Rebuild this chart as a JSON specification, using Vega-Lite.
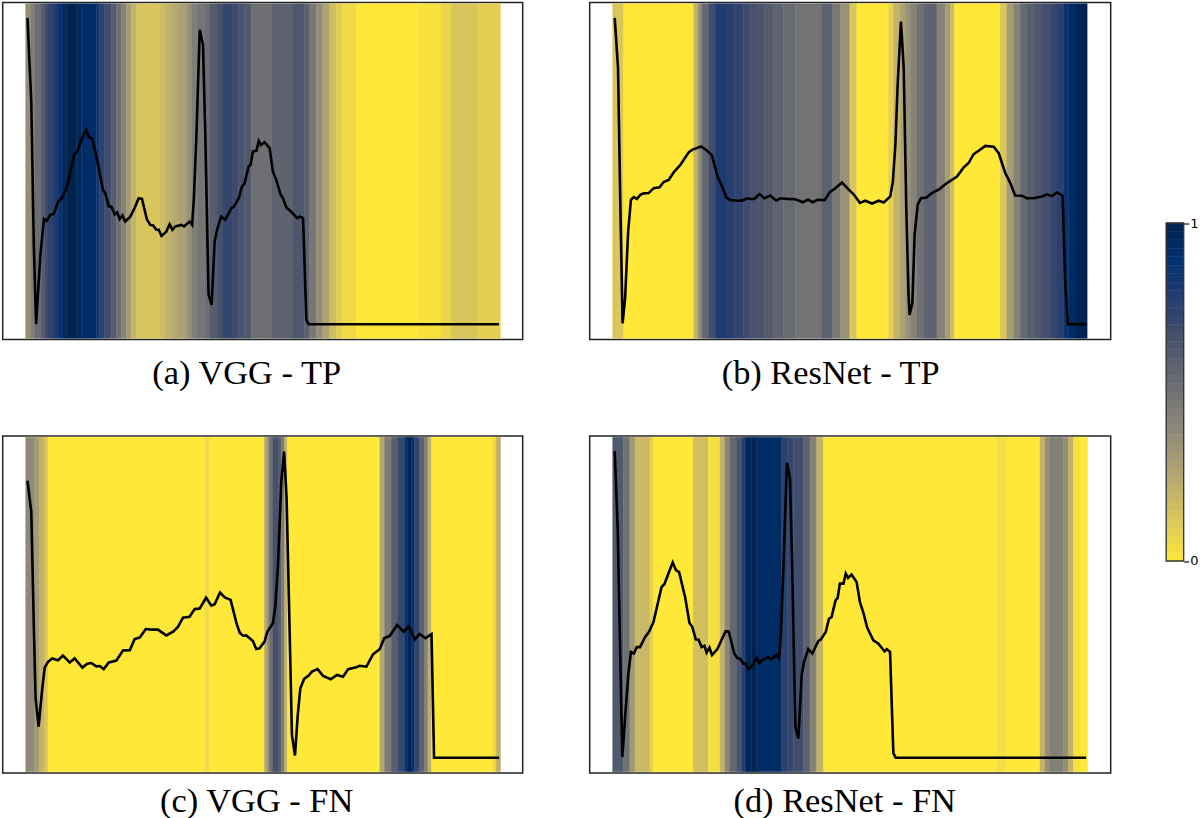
{
  "$schema": "https://vega.github.io/schema/vega-lite/v6.json",
  "description": "ECG beats with saliency strips for VGG and ResNet, true positive and false negative",
  "background": "white",
  "padding": {"left": 1.7, "top": 1.5, "right": 0, "bottom": 0},
  "spacing": 53.5,
  "config": {
    "view": {"stroke": "#222", "strokeWidth": 1.5},
    "axisX": {"domain": false, "ticks": false, "labels": false, "grid": false, "titleFont": "Liberation Serif", "titleFontSize": 34.4, "titleFontWeight": "normal", "titleColor": "black", "titleBaseline": "alphabetic", "titleAlign": "center"}
  },
  "datasets": {
    "heatA": [
      {"x":0,"x2":2,"w":0.36},{"x":2,"x2":3.6,"w":0.44},{"x":3.6,"x2":6.2,"w":0.52},{"x":6.2,"x2":7.5,"w":0.62},{"x":7.5,"x2":8.8,"w":0.68},{"x":8.8,"x2":10.8,"w":0.74},{"x":10.8,"x2":12.8,"w":0.8},{"x":12.8,"x2":14.7,"w":0.88},{"x":14.7,"x2":16,"w":0.96},{"x":16,"x2":20,"w":1},{"x":20,"x2":22,"w":0.96},{"x":22,"x2":27.9,"w":0.92},{"x":27.9,"x2":29.2,"w":0.85},{"x":29.2,"x2":31.2,"w":0.75},{"x":31.2,"x2":33.8,"w":0.68},{"x":33.8,"x2":35.8,"w":0.6},{"x":35.8,"x2":37.8,"w":0.5},{"x":37.8,"x2":39.7,"w":0.42},{"x":39.7,"x2":41.7,"w":0.3},{"x":41.7,"x2":43.7,"w":0.2},{"x":43.7,"x2":52.9,"w":0.13},{"x":52.9,"x2":54.9,"w":0.16},{"x":54.9,"x2":57.5,"w":0.2},{"x":57.5,"x2":60.5,"w":0.25},{"x":60.5,"x2":63.4,"w":0.28},{"x":63.4,"x2":65.4,"w":0.35},{"x":65.4,"x2":68,"w":0.44},{"x":68,"x2":70.7,"w":0.48},{"x":70.7,"x2":72.6,"w":0.52},{"x":72.6,"x2":75.3,"w":0.6},{"x":75.3,"x2":77.9,"w":0.66},{"x":77.9,"x2":81.8,"w":0.72},{"x":81.8,"x2":84,"w":0.69},{"x":84,"x2":86.5,"w":0.65},{"x":86.5,"x2":89,"w":0.62},{"x":89,"x2":97,"w":0.51},{"x":97,"x2":105.5,"w":0.57},{"x":105.5,"x2":110.1,"w":0.63},{"x":110.1,"x2":112.1,"w":0.58},{"x":112.1,"x2":114.7,"w":0.47},{"x":114.7,"x2":117.3,"w":0.37},{"x":117.3,"x2":120,"w":0.27},{"x":120,"x2":122.6,"w":0.16},{"x":122.6,"x2":125,"w":0.1},{"x":125,"x2":130.5,"w":0.05},{"x":130.5,"x2":154.8,"w":0},{"x":154.8,"x2":164,"w":0.02},{"x":164,"x2":168,"w":0.07},{"x":168,"x2":178.5,"w":0.13},{"x":178.5,"x2":187.4,"w":0.09}
    ],
    "ecgA": [
      {"x":0.7,"y":1},{"x":2.2,"y":0.727},{"x":3.2,"y":0.259},{"x":4.1,"y":0},{"x":5.8,"y":0.226},{"x":7.2,"y":0.343},{"x":8.3,"y":0.337},{"x":9.7,"y":0.357},{"x":11.1,"y":0.36},{"x":12.8,"y":0.4},{"x":14.3,"y":0.411},{"x":16.3,"y":0.449},{"x":17.6,"y":0.498},{"x":19.3,"y":0.555},{"x":20.4,"y":0.564},{"x":22,"y":0.602},{"x":23.9,"y":0.634},{"x":25,"y":0.61},{"x":26.3,"y":0.607},{"x":28.6,"y":0.52},{"x":30.5,"y":0.439},{"x":31.4,"y":0.428},{"x":32.8,"y":0.384},{"x":33.8,"y":0.384},{"x":35.1,"y":0.359},{"x":36.1,"y":0.365},{"x":37.1,"y":0.343},{"x":38.2,"y":0.355},{"x":39.3,"y":0.335},{"x":41.3,"y":0.351},{"x":43,"y":0.379},{"x":44.6,"y":0.411},{"x":45.9,"y":0.409},{"x":47.9,"y":0.341},{"x":49.2,"y":0.324},{"x":50.3,"y":0.322},{"x":51.6,"y":0.308},{"x":52.5,"y":0.308},{"x":53.6,"y":0.288},{"x":55.5,"y":0.302},{"x":56.8,"y":0.326},{"x":57.9,"y":0.308},{"x":59.1,"y":0.319},{"x":61.4,"y":0.324},{"x":62.5,"y":0.319},{"x":64.7,"y":0.335},{"x":65.7,"y":0.324},{"x":66.4,"y":0.411},{"x":67.4,"y":0.618},{"x":68.7,"y":0.961},{"x":70,"y":0.912},{"x":70.9,"y":0.618},{"x":72.2,"y":0.096},{"x":73.4,"y":0.063},{"x":74.6,"y":0.27},{"x":75.7,"y":0.313},{"x":77.2,"y":0.351},{"x":78.8,"y":0.341},{"x":81.2,"y":0.379},{"x":82.2,"y":0.384},{"x":84.1,"y":0.411},{"x":85.4,"y":0.449},{"x":86.4,"y":0.46},{"x":88,"y":0.515},{"x":88.8,"y":0.52},{"x":89.7,"y":0.564},{"x":91.1,"y":0.566},{"x":92,"y":0.598},{"x":92.8,"y":0.585},{"x":94.3,"y":0.594},{"x":96.3,"y":0.575},{"x":97.6,"y":0.498},{"x":98.9,"y":0.471},{"x":100.7,"y":0.422},{"x":101.6,"y":0.411},{"x":102.9,"y":0.381},{"x":104.9,"y":0.366},{"x":107.2,"y":0.346},{"x":108.2,"y":0.351},{"x":109.5,"y":0.346},{"x":110.8,"y":0.014},{"x":111.7,"y":0},{"x":186.8,"y":0}
    ],
    "heatB": [
      {"x":0,"x2":4.3,"w":0.12},{"x":4.3,"x2":32,"w":0},{"x":32,"x2":33.8,"w":0.2},{"x":33.8,"x2":35.3,"w":0.38},{"x":35.3,"x2":37.9,"w":0.55},{"x":37.9,"x2":40.5,"w":0.68},{"x":40.5,"x2":45.1,"w":0.8},{"x":45.1,"x2":48,"w":0.78},{"x":48,"x2":51.7,"w":0.74},{"x":51.7,"x2":54.4,"w":0.69},{"x":54.4,"x2":57,"w":0.66},{"x":57,"x2":60,"w":0.64},{"x":60,"x2":63.6,"w":0.61},{"x":63.6,"x2":67.5,"w":0.57},{"x":67.5,"x2":72.1,"w":0.53},{"x":72.1,"x2":82.6,"w":0.49},{"x":82.6,"x2":86.6,"w":0.58},{"x":86.6,"x2":89.9,"w":0.46},{"x":89.9,"x2":93.6,"w":0.35},{"x":93.6,"x2":96.4,"w":0.12},{"x":96.4,"x2":108.9,"w":0},{"x":108.9,"x2":110.9,"w":0.08},{"x":110.9,"x2":113.5,"w":0.2},{"x":113.5,"x2":115.5,"w":0.28},{"x":115.5,"x2":117.5,"w":0.35},{"x":117.5,"x2":120,"w":0.42},{"x":120,"x2":122.7,"w":0.5},{"x":122.7,"x2":128,"w":0.57},{"x":128,"x2":131.3,"w":0.42},{"x":131.3,"x2":133.3,"w":0.3},{"x":133.3,"x2":134.9,"w":0.16},{"x":134.9,"x2":153,"w":0},{"x":153,"x2":155.6,"w":0.12},{"x":155.6,"x2":158.3,"w":0.3},{"x":158.3,"x2":160.9,"w":0.42},{"x":160.9,"x2":163.5,"w":0.54},{"x":163.5,"x2":166.2,"w":0.59},{"x":166.2,"x2":169.5,"w":0.63},{"x":169.5,"x2":172.7,"w":0.67},{"x":172.7,"x2":175.4,"w":0.71},{"x":175.4,"x2":178,"w":0.76},{"x":178,"x2":180,"w":0.87},{"x":180,"x2":183.3,"w":0.93},{"x":183.3,"x2":187.3,"w":1}
    ],
    "ecgB": [
      {"x":0.8,"y":1},{"x":2.1,"y":0.836},{"x":3,"y":0.4},{"x":3.9,"y":0.003},{"x":4.9,"y":0.085},{"x":6.1,"y":0.303},{"x":7.2,"y":0.406},{"x":8.3,"y":0.415},{"x":9.6,"y":0.409},{"x":10.9,"y":0.422},{"x":12.2,"y":0.427},{"x":14.2,"y":0.428},{"x":16.2,"y":0.444},{"x":18.5,"y":0.447},{"x":20.1,"y":0.464},{"x":22.1,"y":0.471},{"x":24.1,"y":0.496},{"x":26.7,"y":0.52},{"x":30,"y":0.561},{"x":31.3,"y":0.569},{"x":34.9,"y":0.58},{"x":37.2,"y":0.567},{"x":39.2,"y":0.551},{"x":41.4,"y":0.482},{"x":43.2,"y":0.449},{"x":44.9,"y":0.413},{"x":46.4,"y":0.405},{"x":49.1,"y":0.403},{"x":51.3,"y":0.404},{"x":53,"y":0.411},{"x":55,"y":0.408},{"x":56.3,"y":0.411},{"x":57.9,"y":0.425},{"x":59.9,"y":0.411},{"x":62.2,"y":0.42},{"x":64.5,"y":0.404},{"x":66.4,"y":0.411},{"x":68.8,"y":0.409},{"x":72.1,"y":0.408},{"x":75.1,"y":0.398},{"x":77.1,"y":0.407},{"x":78.9,"y":0.398},{"x":80.9,"y":0.406},{"x":83.7,"y":0.405},{"x":85.7,"y":0.431},{"x":87.5,"y":0.441},{"x":90.5,"y":0.462},{"x":93.2,"y":0.439},{"x":95.1,"y":0.424},{"x":97.6,"y":0.396},{"x":99.7,"y":0.403},{"x":102.4,"y":0.394},{"x":105,"y":0.403},{"x":107,"y":0.397},{"x":109.6,"y":0.417},{"x":110.6,"y":0.466},{"x":111.6,"y":0.585},{"x":112.5,"y":0.781},{"x":113.8,"y":0.988},{"x":114.9,"y":0.836},{"x":115.9,"y":0.379},{"x":116.8,"y":0.096},{"x":117.2,"y":0.03},{"x":118.3,"y":0.069},{"x":119.2,"y":0.292},{"x":120.4,"y":0.39},{"x":121.7,"y":0.411},{"x":123.8,"y":0.413},{"x":126,"y":0.428},{"x":129,"y":0.441},{"x":131.3,"y":0.457},{"x":135.9,"y":0.482},{"x":138.5,"y":0.511},{"x":140.5,"y":0.526},{"x":142.5,"y":0.555},{"x":144.5,"y":0.566},{"x":147.1,"y":0.582},{"x":150.4,"y":0.579},{"x":152.4,"y":0.558},{"x":155,"y":0.493},{"x":157,"y":0.46},{"x":158.9,"y":0.42},{"x":161.6,"y":0.419},{"x":163.5,"y":0.411},{"x":166.2,"y":0.411},{"x":169.5,"y":0.417},{"x":171.4,"y":0.424},{"x":173.4,"y":0.418},{"x":175.4,"y":0.43},{"x":177.6,"y":0.42},{"x":178.7,"y":0.128},{"x":179.7,"y":0},{"x":187,"y":0}
    ],
    "heatC": [
      {"x":0,"x2":3.6,"w":0.38},{"x":3.6,"x2":5.5,"w":0.3},{"x":5.5,"x2":7.5,"w":0.2},{"x":7.5,"x2":8.8,"w":0.12},{"x":8.8,"x2":70.7,"w":0},{"x":70.7,"x2":72.6,"w":0.05},{"x":72.6,"x2":94.3,"w":0},{"x":94.3,"x2":95.5,"w":0.25},{"x":95.5,"x2":96.3,"w":0.38},{"x":96.3,"x2":97.6,"w":0.52},{"x":97.6,"x2":99.6,"w":0.66},{"x":99.6,"x2":100.9,"w":0.6},{"x":100.9,"x2":102.2,"w":0.45},{"x":102.2,"x2":103.3,"w":0.2},{"x":103.3,"x2":139.8,"w":0},{"x":139.8,"x2":141.7,"w":0.25},{"x":141.7,"x2":144.4,"w":0.45},{"x":144.4,"x2":147,"w":0.6},{"x":147,"x2":149.6,"w":0.72},{"x":149.6,"x2":150.7,"w":0.88},{"x":150.7,"x2":152.3,"w":1},{"x":152.3,"x2":153.6,"w":0.9},{"x":153.6,"x2":155.5,"w":0.72},{"x":155.5,"x2":157.5,"w":0.58},{"x":157.5,"x2":158.8,"w":0.42},{"x":158.8,"x2":160.2,"w":0.22},{"x":160.2,"x2":184.5,"w":0},{"x":184.5,"x2":185.8,"w":0.06},{"x":185.8,"x2":187.4,"w":0.22}
    ],
    "ecgC": [
      {"x":0.7,"y":0.904},{"x":2.2,"y":0.803},{"x":3.2,"y":0.433},{"x":3.9,"y":0.194},{"x":5.1,"y":0.101},{"x":6.4,"y":0.215},{"x":7.5,"y":0.294},{"x":8.8,"y":0.313},{"x":10.5,"y":0.324},{"x":12.8,"y":0.318},{"x":14.7,"y":0.333},{"x":17.4,"y":0.311},{"x":19.3,"y":0.324},{"x":22.4,"y":0.294},{"x":24.3,"y":0.307},{"x":25.9,"y":0.309},{"x":27.9,"y":0.298},{"x":29.2,"y":0.299},{"x":30.8,"y":0.289},{"x":32.8,"y":0.311},{"x":35.8,"y":0.317},{"x":38.4,"y":0.35},{"x":41.1,"y":0.351},{"x":43,"y":0.387},{"x":45,"y":0.392},{"x":47.4,"y":0.42},{"x":49.6,"y":0.418},{"x":52.2,"y":0.418},{"x":55.5,"y":0.399},{"x":58.2,"y":0.411},{"x":60.1,"y":0.427},{"x":62.1,"y":0.457},{"x":64.7,"y":0.46},{"x":66.7,"y":0.485},{"x":68.7,"y":0.487},{"x":71.2,"y":0.522},{"x":73.3,"y":0.496},{"x":74.6,"y":0.501},{"x":76.7,"y":0.539},{"x":78.6,"y":0.523},{"x":80.9,"y":0.515},{"x":83.2,"y":0.439},{"x":84.5,"y":0.408},{"x":85.8,"y":0.398},{"x":87.1,"y":0.399},{"x":89.7,"y":0.381},{"x":91,"y":0.355},{"x":92.3,"y":0.357},{"x":94.3,"y":0.379},{"x":95.4,"y":0.411},{"x":97.6,"y":0.439},{"x":98.6,"y":0.498},{"x":99.6,"y":0.629},{"x":100.9,"y":0.901},{"x":102,"y":0.999},{"x":103,"y":0.847},{"x":104.2,"y":0.411},{"x":105.1,"y":0.074},{"x":106.3,"y":0.007},{"x":107.4,"y":0.139},{"x":108.4,"y":0.226},{"x":109.9,"y":0.257},{"x":111.7,"y":0.268},{"x":113,"y":0.281},{"x":115.2,"y":0.289},{"x":117.4,"y":0.267},{"x":120.4,"y":0.256},{"x":122.9,"y":0.27},{"x":125.3,"y":0.264},{"x":127.3,"y":0.289},{"x":130.5,"y":0.295},{"x":131.9,"y":0.3},{"x":134.5,"y":0.297},{"x":137.1,"y":0.337},{"x":139.8,"y":0.355},{"x":141.5,"y":0.39},{"x":143.7,"y":0.397},{"x":146.6,"y":0.433},{"x":149.2,"y":0.411},{"x":151.3,"y":0.428},{"x":153.6,"y":0.386},{"x":155.5,"y":0.404},{"x":157.8,"y":0.39},{"x":160.2,"y":0.403},{"x":161.2,"y":0},{"x":186.9,"y":0}
    ],
    "heatD": [
      {"x":0,"x2":4.2,"w":0.62},{"x":4.2,"x2":6.8,"w":0.5},{"x":6.8,"x2":8.8,"w":0.32},{"x":8.8,"x2":14.7,"w":0.18},{"x":14.7,"x2":16.1,"w":0.08},{"x":16.1,"x2":31.8,"w":0},{"x":31.8,"x2":37.8,"w":0.15},{"x":37.8,"x2":42.4,"w":0.03},{"x":42.4,"x2":44.3,"w":0.2},{"x":44.3,"x2":46.3,"w":0.4},{"x":46.3,"x2":48.9,"w":0.55},{"x":48.9,"x2":50.9,"w":0.65},{"x":50.9,"x2":52.6,"w":0.78},{"x":52.6,"x2":54.9,"w":0.97},{"x":54.9,"x2":56.8,"w":1},{"x":56.8,"x2":66.7,"w":0.93},{"x":66.7,"x2":69,"w":0.76},{"x":69,"x2":71.3,"w":0.72},{"x":71.3,"x2":75.3,"w":0.68},{"x":75.3,"x2":77.9,"w":0.58},{"x":77.9,"x2":80.5,"w":0.42},{"x":80.5,"x2":83.2,"w":0.2},{"x":83.2,"x2":151.6,"w":0},{"x":151.6,"x2":155.5,"w":0.03},{"x":155.5,"x2":168.7,"w":0},{"x":168.7,"x2":170.7,"w":0.2},{"x":170.7,"x2":172.6,"w":0.36},{"x":172.6,"x2":177.9,"w":0.43},{"x":177.9,"x2":179.9,"w":0.36},{"x":179.9,"x2":181.9,"w":0.2},{"x":181.9,"x2":184.5,"w":0.03},{"x":184.5,"x2":187.4,"w":0}
    ],
    "ecgD": [
      {"x":0.8,"y":1},{"x":2,"y":0.742},{"x":2.9,"y":0.361},{"x":3.8,"y":0.002},{"x":4.9,"y":0.133},{"x":6.2,"y":0.274},{"x":7.2,"y":0.345},{"x":8.4,"y":0.34},{"x":9.5,"y":0.361},{"x":10.8,"y":0.361},{"x":12.8,"y":0.394},{"x":14.3,"y":0.41},{"x":16.1,"y":0.443},{"x":17.6,"y":0.497},{"x":19.3,"y":0.557},{"x":20.4,"y":0.566},{"x":22,"y":0.601},{"x":23.7,"y":0.637},{"x":25,"y":0.612},{"x":26.2,"y":0.606},{"x":28.6,"y":0.524},{"x":30.3,"y":0.44},{"x":31.4,"y":0.427},{"x":32.8,"y":0.386},{"x":33.9,"y":0.385},{"x":35.1,"y":0.361},{"x":36.2,"y":0.365},{"x":37.1,"y":0.343},{"x":38.2,"y":0.359},{"x":39.2,"y":0.335},{"x":41.3,"y":0.354},{"x":43,"y":0.385},{"x":44.6,"y":0.413},{"x":45.8,"y":0.412},{"x":48,"y":0.34},{"x":49.2,"y":0.325},{"x":50.3,"y":0.323},{"x":51.6,"y":0.307},{"x":52.5,"y":0.307},{"x":53.6,"y":0.289},{"x":55.5,"y":0.304},{"x":56.8,"y":0.326},{"x":57.9,"y":0.309},{"x":59.1,"y":0.319},{"x":61.4,"y":0.328},{"x":62.5,"y":0.321},{"x":64.7,"y":0.336},{"x":65.7,"y":0.325},{"x":66.4,"y":0.405},{"x":67.4,"y":0.622},{"x":68.8,"y":0.963},{"x":70,"y":0.911},{"x":70.9,"y":0.612},{"x":72.1,"y":0.1},{"x":73.3,"y":0.062},{"x":74.6,"y":0.269},{"x":75.5,"y":0.312},{"x":77.2,"y":0.354},{"x":78.8,"y":0.34},{"x":81.2,"y":0.381},{"x":82.1,"y":0.385},{"x":84.1,"y":0.41},{"x":85.4,"y":0.454},{"x":86.4,"y":0.459},{"x":88,"y":0.514},{"x":88.8,"y":0.521},{"x":89.7,"y":0.568},{"x":91.1,"y":0.568},{"x":92,"y":0.601},{"x":92.9,"y":0.587},{"x":94.3,"y":0.598},{"x":96.3,"y":0.573},{"x":97.6,"y":0.508},{"x":99,"y":0.472},{"x":100.5,"y":0.424},{"x":102.9,"y":0.383},{"x":104.9,"y":0.372},{"x":107.3,"y":0.347},{"x":108.2,"y":0.354},{"x":109.5,"y":0.345},{"x":110.8,"y":0.015},{"x":111.7,"y":0},{"x":186.9,"y":0}
    ],
    "bar": [
      {"v":0,"v2":0.025,"w":0.0125},{"v":0.025,"v2":0.05,"w":0.0375},{"v":0.05,"v2":0.075,"w":0.0625},{"v":0.075,"v2":0.1,"w":0.0875},{"v":0.1,"v2":0.125,"w":0.1125},{"v":0.125,"v2":0.15,"w":0.1375},{"v":0.15,"v2":0.175,"w":0.1625},{"v":0.175,"v2":0.2,"w":0.1875},{"v":0.2,"v2":0.225,"w":0.2125},{"v":0.225,"v2":0.25,"w":0.2375},{"v":0.25,"v2":0.275,"w":0.2625},{"v":0.275,"v2":0.3,"w":0.2875},{"v":0.3,"v2":0.325,"w":0.3125},{"v":0.325,"v2":0.35,"w":0.3375},{"v":0.35,"v2":0.375,"w":0.3625},{"v":0.375,"v2":0.4,"w":0.3875},{"v":0.4,"v2":0.425,"w":0.4125},{"v":0.425,"v2":0.45,"w":0.4375},{"v":0.45,"v2":0.475,"w":0.4625},{"v":0.475,"v2":0.5,"w":0.4875},{"v":0.5,"v2":0.525,"w":0.5125},{"v":0.525,"v2":0.55,"w":0.5375},{"v":0.55,"v2":0.575,"w":0.5625},{"v":0.575,"v2":0.6,"w":0.5875},{"v":0.6,"v2":0.625,"w":0.6125},{"v":0.625,"v2":0.65,"w":0.6375},{"v":0.65,"v2":0.675,"w":0.6625},{"v":0.675,"v2":0.7,"w":0.6875},{"v":0.7,"v2":0.725,"w":0.7125},{"v":0.725,"v2":0.75,"w":0.7375},{"v":0.75,"v2":0.775,"w":0.7625},{"v":0.775,"v2":0.8,"w":0.7875},{"v":0.8,"v2":0.825,"w":0.8125},{"v":0.825,"v2":0.85,"w":0.8375},{"v":0.85,"v2":0.875,"w":0.8625},{"v":0.875,"v2":0.9,"w":0.8875},{"v":0.9,"v2":0.925,"w":0.9125},{"v":0.925,"v2":0.95,"w":0.9375},{"v":0.95,"v2":0.975,"w":0.9625},{"v":0.975,"v2":1,"w":0.9875}
    ]
  },
  "hconcat": [
    {
      "columns": 2,
      "bounds": "flush",
      "spacing": {"row": 96.5, "column": 67},
      "concat": [
        {
          "width": 520, "height": 337,
          "layer": [
            {
              "data": {"name": "heatA"},
              "mark": {"type": "rect", "strokeWidth": 0.5},
              "encoding": {
                "x": {"field": "x", "type": "quantitative", "scale": {"domain": [-9.08, 196.2], "nice": false, "zero": false}, "axis": {"title": "(a) VGG - TP", "titleX": 243.5, "titleY": 43.5}},
                "x2": {"field": "x2"},
                "y": {"datum": -0.046, "type": "quantitative", "scale": {"domain": [-0.05, 1.05], "nice": false, "zero": false}, "axis": null},
                "y2": {"datum": 1.046},
                "color": {"field": "w", "type": "quantitative", "legend": null, "scale": {"domain": [0,0.1,0.2,0.3,0.4,0.5,0.6,0.7,0.8,0.9,1], "range": ["#ffe838","#e1cc55","#c3b369","#a59c74","#8a8678","#707173","#575d6d","#3b496c","#1f3a70","#00306f","#00224e"], "interpolate": "rgb"}},
                "stroke": {"field": "w", "type": "quantitative", "legend": null, "scale": {"domain": [0,0.1,0.2,0.3,0.4,0.5,0.6,0.7,0.8,0.9,1], "range": ["#ffe838","#e1cc55","#c3b369","#a59c74","#8a8678","#707173","#575d6d","#3b496c","#1f3a70","#00306f","#00224e"], "interpolate": "rgb"}}
              }
            },
            {
              "data": {"name": "ecgA"},
              "mark": {"type": "line", "color": "black", "strokeWidth": 2.6},
              "encoding": {
                "x": {"field": "x", "type": "quantitative"},
                "y": {"field": "y", "type": "quantitative"}
              }
            }
          ]
        },
        {
          "width": 521, "height": 337,
          "layer": [
            {
              "data": {"name": "heatB"},
              "mark": {"type": "rect", "strokeWidth": 0.5},
              "encoding": {
                "x": {"field": "x", "type": "quantitative", "scale": {"domain": [-9.08, 196.6], "nice": false, "zero": false}, "axis": {"title": "(b) ResNet - TP", "titleX": 240.5, "titleY": 43.5}},
                "x2": {"field": "x2"},
                "y": {"datum": -0.046, "type": "quantitative", "scale": {"domain": [-0.05, 1.05], "nice": false, "zero": false}, "axis": null},
                "y2": {"datum": 1.046},
                "color": {"field": "w", "type": "quantitative", "legend": null, "scale": {"domain": [0,0.1,0.2,0.3,0.4,0.5,0.6,0.7,0.8,0.9,1], "range": ["#ffe838","#e1cc55","#c3b369","#a59c74","#8a8678","#707173","#575d6d","#3b496c","#1f3a70","#00306f","#00224e"], "interpolate": "rgb"}},
                "stroke": {"field": "w", "type": "quantitative", "legend": null, "scale": {"domain": [0,0.1,0.2,0.3,0.4,0.5,0.6,0.7,0.8,0.9,1], "range": ["#ffe838","#e1cc55","#c3b369","#a59c74","#8a8678","#707173","#575d6d","#3b496c","#1f3a70","#00306f","#00224e"], "interpolate": "rgb"}}
              }
            },
            {
              "data": {"name": "ecgB"},
              "mark": {"type": "line", "color": "black", "strokeWidth": 2.6},
              "encoding": {
                "x": {"field": "x", "type": "quantitative"},
                "y": {"field": "y", "type": "quantitative"}
              }
            }
          ]
        },
        {
          "width": 520, "height": 337,
          "layer": [
            {
              "data": {"name": "heatC"},
              "mark": {"type": "rect", "strokeWidth": 0.5},
              "encoding": {
                "x": {"field": "x", "type": "quantitative", "scale": {"domain": [-9.08, 196.2], "nice": false, "zero": false}, "axis": {"title": "(c) VGG - FN", "titleX": 253.5, "titleY": 39}},
                "x2": {"field": "x2"},
                "y": {"datum": -0.046, "type": "quantitative", "scale": {"domain": [-0.05, 1.05], "nice": false, "zero": false}, "axis": null},
                "y2": {"datum": 1.046},
                "color": {"field": "w", "type": "quantitative", "legend": null, "scale": {"domain": [0,0.1,0.2,0.3,0.4,0.5,0.6,0.7,0.8,0.9,1], "range": ["#ffe838","#e1cc55","#c3b369","#a59c74","#8a8678","#707173","#575d6d","#3b496c","#1f3a70","#00306f","#00224e"], "interpolate": "rgb"}},
                "stroke": {"field": "w", "type": "quantitative", "legend": null, "scale": {"domain": [0,0.1,0.2,0.3,0.4,0.5,0.6,0.7,0.8,0.9,1], "range": ["#ffe838","#e1cc55","#c3b369","#a59c74","#8a8678","#707173","#575d6d","#3b496c","#1f3a70","#00306f","#00224e"], "interpolate": "rgb"}}
              }
            },
            {
              "data": {"name": "ecgC"},
              "mark": {"type": "line", "color": "black", "strokeWidth": 2.6},
              "encoding": {
                "x": {"field": "x", "type": "quantitative"},
                "y": {"field": "y", "type": "quantitative"}
              }
            }
          ]
        },
        {
          "width": 521, "height": 337,
          "layer": [
            {
              "data": {"name": "heatD"},
              "mark": {"type": "rect", "strokeWidth": 0.5},
              "encoding": {
                "x": {"field": "x", "type": "quantitative", "scale": {"domain": [-9.08, 196.6], "nice": false, "zero": false}, "axis": {"title": "(d) ResNet - FN", "titleX": 254.5, "titleY": 39}},
                "x2": {"field": "x2"},
                "y": {"datum": -0.046, "type": "quantitative", "scale": {"domain": [-0.05, 1.05], "nice": false, "zero": false}, "axis": null},
                "y2": {"datum": 1.046},
                "color": {"field": "w", "type": "quantitative", "legend": null, "scale": {"domain": [0,0.1,0.2,0.3,0.4,0.5,0.6,0.7,0.8,0.9,1], "range": ["#ffe838","#e1cc55","#c3b369","#a59c74","#8a8678","#707173","#575d6d","#3b496c","#1f3a70","#00306f","#00224e"], "interpolate": "rgb"}},
                "stroke": {"field": "w", "type": "quantitative", "legend": null, "scale": {"domain": [0,0.1,0.2,0.3,0.4,0.5,0.6,0.7,0.8,0.9,1], "range": ["#ffe838","#e1cc55","#c3b369","#a59c74","#8a8678","#707173","#575d6d","#3b496c","#1f3a70","#00306f","#00224e"], "interpolate": "rgb"}}
              }
            },
            {
              "data": {"name": "ecgD"},
              "mark": {"type": "line", "color": "black", "strokeWidth": 2.6},
              "encoding": {
                "x": {"field": "x", "type": "quantitative"},
                "y": {"field": "y", "type": "quantitative"}
              }
            }
          ]
        }
      ]
    },
    {
      "width": 17.5,
      "height": 558.5,
      "view": {"stroke": null},
      "data": {"name": "bar"},
      "layer": [
        {
          "mark": {"type": "rect", "strokeWidth": 0.5},
          "encoding": {
            "y": {"field": "v", "type": "quantitative", "scale": {"domain": [0, 1.6524], "nice": false, "zero": false}, "axis": {"orient": "right", "values": [0, 1], "format": "d", "title": null, "grid": false, "domain": false, "ticks": true, "tickSize": 5, "tickColor": "#222", "tickWidth": 1.3, "labels": true, "labelFont": "DejaVu Sans", "labelFontSize": 13, "labelColor": "black", "labelPadding": 1}},
            "y2": {"field": "v2"},
            "color": {"field": "w", "type": "quantitative", "legend": null, "scale": {"domain": [0,0.1,0.2,0.3,0.4,0.5,0.6,0.7,0.8,0.9,1], "range": ["#ffe838","#e1cc55","#c3b369","#a59c74","#8a8678","#707173","#575d6d","#3b496c","#1f3a70","#00306f","#00224e"], "interpolate": "rgb"}},
            "stroke": {"field": "w", "type": "quantitative", "legend": null, "scale": {"domain": [0,0.1,0.2,0.3,0.4,0.5,0.6,0.7,0.8,0.9,1], "range": ["#ffe838","#e1cc55","#c3b369","#a59c74","#8a8678","#707173","#575d6d","#3b496c","#1f3a70","#00306f","#00224e"], "interpolate": "rgb"}}
          }
        },
        {
          "data": {"values": [{"v": 0, "v2": 1}]},
          "mark": {"type": "rect", "fillOpacity": 0, "stroke": "#333", "strokeWidth": 1.3},
          "encoding": {
            "y": {"field": "v", "type": "quantitative"},
            "y2": {"field": "v2"}
          }
        }
      ]
    }
  ]
}
